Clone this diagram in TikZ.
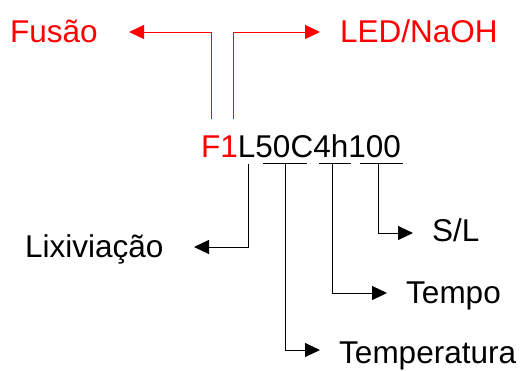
\documentclass[tikz,border=0pt]{standalone}
\usepackage{fontspec}
\setmainfont{Liberation Sans}
\usetikzlibrary{arrows.meta}
\begin{document}
\begin{tikzpicture}[x=1pt,y=-1pt,
  lbl/.style={anchor=base west, inner sep=0pt, font=\fontsize{31.5}{38}\selectfont},
  conn/.style={line width=1pt, draw=black, -{Triangle[length=15pt,width=14pt]}},
  redconn/.style={line width=1pt, draw=red, -{Triangle[length=15pt,width=14pt]}},
  uline/.style={line width=1pt, draw=black}]
\useasboundingbox (0,0) rectangle (521,370);
% labels
\node[lbl, text=red] (fus) at (10,42) {Fusão};
\node[lbl, text=red] (led) at (340,42) {LED/NaOH};
\node[lbl] (code) at (201,157) {\textcolor{red}{F1}L50C4h100};
\node[lbl] (lix) at (25,257) {Lixiviação};
\node[lbl] (sl) at (432,241) {S/L};
\node[lbl] (tempo) at (406,303) {Tempo};
\node[lbl] (temp) at (339,363) {Temperatura};
% coordinates
\coordinate (fstart) at (211,119);
\coordinate (ftip) at (129,32);
\coordinate (lstart) at (233,119);
\coordinate (ltip) at (320,32);
\coordinate (u1a) at (263,163); \coordinate (u1b) at (307,163);
\coordinate (u2a) at (319,163); \coordinate (u2b) at (351,163);
\coordinate (u3a) at (360,163); \coordinate (u3b) at (403,163);
\coordinate (cL) at (248,164);
\coordinate (c50) at (285,164);
\coordinate (c4h) at (332,164);
\coordinate (c100) at (378,164);
\coordinate (tlix) at (194,247);
\coordinate (ttemp) at (320,350);
\coordinate (ttempo) at (387,293);
\coordinate (tsl) at (413,233);
% red connectors
\draw[redconn] (fstart) |- (ftip);
\draw[redconn] (lstart) |- (ltip);
% underlines
\draw[uline] (u1a) -- (u1b);
\draw[uline] (u2a) -- (u2b);
\draw[uline] (u3a) -- (u3b);
% black connectors
\draw[conn] (cL) |- (tlix);
\draw[conn] (c50) |- (ttemp);
\draw[conn] (c4h) |- (ttempo);
\draw[conn] (c100) |- (tsl);
\end{tikzpicture}
\end{document}
